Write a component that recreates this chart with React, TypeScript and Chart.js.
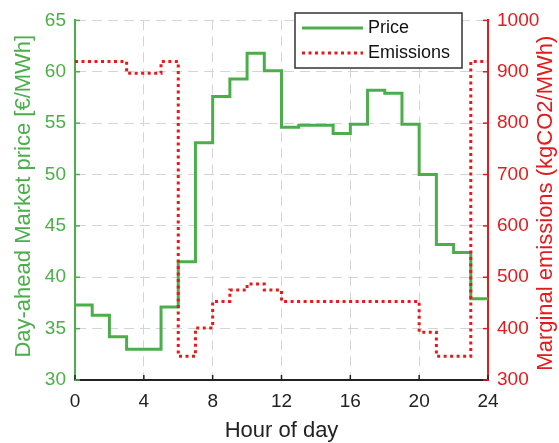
import { useEffect, useRef } from "react";
import { Chart, registerables } from "chart.js";
Chart.register(...registerables);

// Hourly values (value holds from hour h to h+1)
const hourStarts = [0, 1, 2, 3, 4, 5, 6, 7, 8, 9, 10, 11, 12, 13, 14, 15, 16, 17, 18, 19, 20, 21, 22, 23];
const dayEnd = 24;
const price = [37.3, 36.3, 34.2, 33.0, 33.0, 37.1, 41.5, 53.1, 57.6, 59.3, 61.8, 60.1, 54.6, 54.8, 54.8, 54.0, 54.9, 58.2, 57.9, 54.9, 50.0, 43.2, 42.4, 37.9];
const emissions = [920, 920, 920, 897, 897, 920, 346, 401, 453, 475, 487, 475, 453, 453, 453, 453, 453, 453, 453, 453, 393, 346, 346, 920];

const seriesNames = ["Price", "Emissions"];
const xTitle = "Hour of day";
const yLeftTitle = "Day-ahead Market price [€/MWh]";
const yRightTitle = "Marginal emissions (kgCO2/MWh)";

const GREEN = "#4cae4a";
const RED = "#e41a1c";
const FONT = "'Liberation Sans', Arial, sans-serif";

function toSteps(vals: number[]) {
  const pts = hourStarts.map((h, i) => ({ x: h, y: vals[i] }));
  pts.push({ x: dayEnd, y: vals[vals.length - 1] });
  return pts;
}

const plain = (v: any) => String(v);

const decorPlugin = {
  id: "decor",
  afterDraw(chart: any) {
    const { ctx, chartArea } = chart;
    const xs = chart.scales.x;
    const yl = chart.scales.y;
    const yr = chart.scales.y1;
    const tl = 5;
    ctx.save();
    // inward ticks
    ctx.lineWidth = 1.5;
    ctx.strokeStyle = "#222";
    xs.ticks.forEach((t: any) => {
      const px = xs.getPixelForValue(t.value);
      ctx.beginPath();
      ctx.moveTo(px, chartArea.bottom);
      ctx.lineTo(px, chartArea.bottom - tl);
      ctx.stroke();
    });
    ctx.strokeStyle = GREEN;
    yl.ticks.forEach((t: any) => {
      const py = yl.getPixelForValue(t.value);
      ctx.beginPath();
      ctx.moveTo(chartArea.left, py);
      ctx.lineTo(chartArea.left + tl, py);
      ctx.stroke();
    });
    ctx.strokeStyle = RED;
    yr.ticks.forEach((t: any) => {
      const py = yr.getPixelForValue(t.value);
      ctx.beginPath();
      ctx.moveTo(chartArea.right, py);
      ctx.lineTo(chartArea.right - tl, py);
      ctx.stroke();
    });

    // axis titles
    ctx.textAlign = "center";
    ctx.textBaseline = "middle";
    ctx.font = `22px ${FONT}`;
    ctx.fillStyle = "#222";
    ctx.fillText(xTitle, (chartArea.left + chartArea.right) / 2, 431);
    ctx.save();
    ctx.translate(24, (chartArea.top + chartArea.bottom) / 2 - 4);
    ctx.rotate(-Math.PI / 2);
    ctx.fillStyle = GREEN;
    ctx.fillText(yLeftTitle, 0, 0);
    ctx.restore();
    ctx.save();
    ctx.translate(546, (chartArea.top + chartArea.bottom) / 2 + 3);
    ctx.rotate(-Math.PI / 2);
    ctx.fillStyle = RED;
    ctx.fillText(yRightTitle, 0, 0);
    ctx.restore();

    // legend box
    const bx = 295, by = 13, bw = 167, bh = 55;
    ctx.fillStyle = "#fff";
    ctx.fillRect(bx, by, bw, bh);
    ctx.lineWidth = 1.5;
    ctx.strokeStyle = "#333";
    ctx.strokeRect(bx, by, bw, bh);
    const rows = [by + 15, by + 40];
    chart.data.datasets.forEach((ds: any, i: number) => {
      const y = rows[i];
      ctx.beginPath();
      ctx.lineWidth = ds.borderWidth;
      ctx.strokeStyle = ds.borderColor;
      ctx.setLineDash(ds.borderDash || []);
      ctx.moveTo(302, y);
      ctx.lineTo(363, y);
      ctx.stroke();
      ctx.setLineDash([]);
      ctx.fillStyle = "#111";
      ctx.font = `18px ${FONT}`;
      ctx.textAlign = "left";
      ctx.fillText(ds.label, 368, y);
    });
    ctx.restore();
  },
};

export default function App() {
  const ref = useRef<HTMLCanvasElement | null>(null);
  useEffect(() => {
    document.body.style.margin = "0";
    const chart = new Chart(ref.current as HTMLCanvasElement, {
      type: "line",
      data: {
        datasets: [
          {
            label: seriesNames[0],
            data: toSteps(price),
            borderColor: GREEN,
            borderWidth: 3,
            stepped: "before",
            pointRadius: 0,
            yAxisID: "y",
            order: 1,
          },
          {
            label: seriesNames[1],
            data: toSteps(emissions),
            borderColor: RED,
            borderWidth: 3,
            borderDash: [3, 3.5],
            stepped: "before",
            pointRadius: 0,
            yAxisID: "y1",
            order: 0,
          },
        ],
      },
      options: {
        animation: false,
        responsive: false,
        layout: { padding: { top: 17, left: 0, right: 0, bottom: 0 } },
        plugins: { legend: { display: false }, tooltip: { enabled: false } },
        scales: {
          x: {
            type: "linear",
            min: 0,
            max: 24,
            ticks: { stepSize: 4, color: "#222", font: { family: FONT, size: 19 }, padding: 10, callback: plain },
            grid: { color: "#d4d4d4", drawTicks: false },
            border: { color: "#222", width: 2, dash: [10, 6] },
            afterFit: (s: any) => { s.height = 63; },
          },
          y: {
            position: "left",
            min: 30,
            max: 65,
            ticks: { stepSize: 5, color: GREEN, font: { family: FONT, size: 19 }, padding: 9, callback: plain },
            grid: { color: "#d4d4d4", drawTicks: false },
            border: { color: GREEN, width: 2, dash: [10, 6] },
            afterFit: (s: any) => { s.width = 75; },
          },
          y1: {
            position: "right",
            min: 300,
            max: 1000,
            ticks: { stepSize: 100, color: RED, font: { family: FONT, size: 19 }, padding: 9, callback: plain },
            grid: { display: false, drawTicks: false },
            border: { color: RED, width: 2 },
            afterFit: (s: any) => { s.width = 71; },
          },
        },
      },
      plugins: [decorPlugin],
    } as any);
    return () => chart.destroy();
  }, []);
  return (
    <div style={{ width: 559, height: 443 }}>
      <canvas ref={ref} width={559} height={443} />
    </div>
  );
}
